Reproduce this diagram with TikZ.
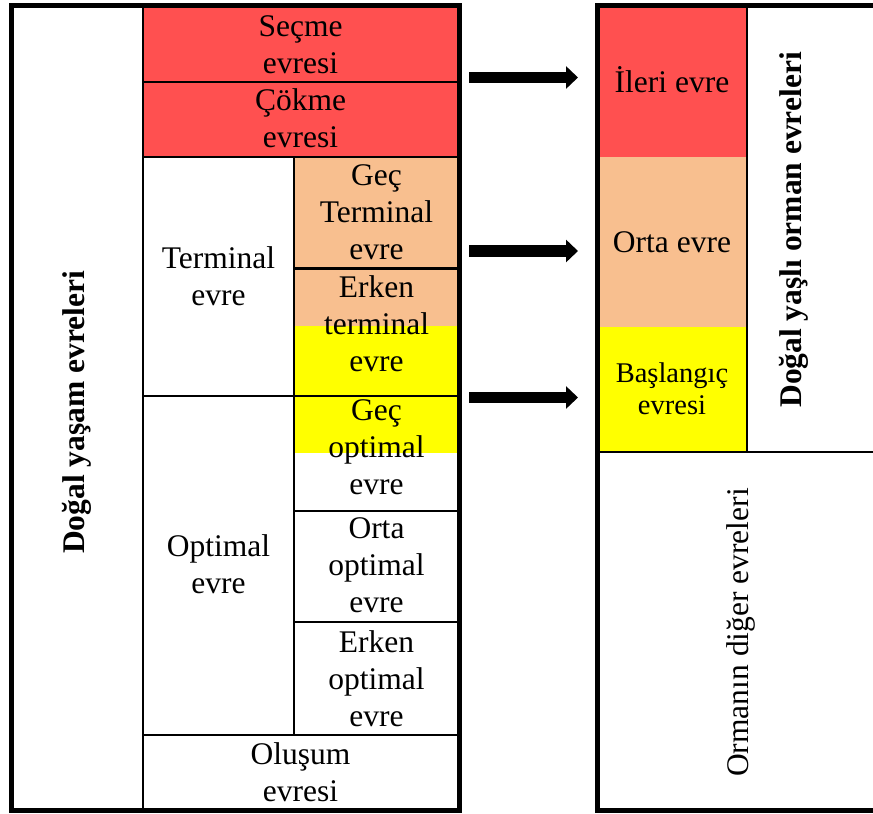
\documentclass[tikz,border=0pt]{standalone}
\usepackage{fontspec}
\setmainfont{Liberation Serif}
\usetikzlibrary{arrows.meta}
\definecolor{cred}{RGB}{255,80,80}
\definecolor{cpeach}{RGB}{248,191,143}
\definecolor{cyel}{RGB}{255,255,0}
\begin{document}
\begin{tikzpicture}[x=1pt,y=-1pt,
  cell/.style={font=\fontsize{31.5}{37}\selectfont, align=center, inner sep=0pt},
  smallcell/.style={font=\fontsize{28.5}{32}\selectfont, align=center, inner sep=0pt},
  boldcell/.style={font=\fontsize{31.5}{37}\selectfont\bfseries, inner sep=0pt},
  thin/.style={line width=2.5pt},
  thick/.style={line width=5pt},
  bigarrow/.style={line width=11.5pt, -{Triangle[width=22pt,length=12pt]}}]
\useasboundingbox (0,0) rectangle (873,814);
\clip (0,0) rectangle (873,814);
% fills
\fill[cred] (143,5) rectangle (459,157);
\fill[cpeach] (294,157) rectangle (459,326);
\fill[cyel] (294,326) rectangle (459,453);
\fill[cred] (597,5) rectangle (747,157);
\fill[cpeach] (597,157) rectangle (747,327);
\fill[cyel] (597,327) rectangle (747,452);
% inner lines, left table
\draw[thin] (143,5) -- (143,810);
\draw[thin] (143,82) -- (459,82);
\draw[thin] (143,157) -- (459,157);
\draw[thin] (294,157) -- (294,735);
\draw[thin] (294,268.5) -- (459,268.5);
\draw[thin] (143,396) -- (459,396);
\draw[thin] (294,511) -- (459,511);
\draw[thin] (294,622) -- (459,622);
\draw[thin] (143,735) -- (459,735);
% inner lines, right table
\draw[thin] (747,5) -- (747,452);
\draw[thin] (597,452) -- (880,452);
% outer borders
\draw[thick] (11,5) rectangle (459.5,810.5);
\draw[thick] (880,5) -- (597,5) -- (597,810.5) -- (880,810.5);
% texts, left table
\node[cell] (secme) at (300.5,45) {Seçme\\evresi};
\node[cell] (cokme) at (300.5,118) {Çökme\\evresi};
\node[cell] (term) at (218.5,276) {Terminal\\evre};
\node[cell] (gecterm) at (376.5,212.5) {Geç\\Terminal\\evre};
\node[cell] (erkterm) at (376.5,324) {Erken\\terminal\\evre};
\node[cell] (gecopt) at (376.5,447.5) {Geç\\optimal\\evre};
\node[cell] (ortaopt) at (376.5,565.5) {Orta\\optimal\\evre};
\node[cell] (erkopt) at (376.5,678.5) {Erken\\optimal\\evre};
\node[cell] (opt) at (218.5,564) {Optimal\\evre};
\node[cell] (olusum) at (300.5,772) {Oluşum\\evresi};
\node[boldcell, rotate=90, anchor=base] (dogalL) at (84,412.5) {Doğal yaşam evreleri};
% texts, right table
\node[cell, anchor=base] (ileri) at (672,92) {İleri evre};
\node[cell, anchor=base] (orta) at (672,252) {Orta evre};
\node[smallcell] (basl) at (672,388.5) {Başlangıç\\evresi};
\node[boldcell, rotate=90, anchor=base] (dogalR) at (801,230) {Doğal yaşlı orman evreleri};
\node[cell, rotate=90, anchor=base] (diger) at (748,632.5) {Ormanın diğer evreleri};
% arrows
\coordinate (a1s) at (469,77.5);
\coordinate (a1e) at (578,77.5);
\coordinate (a2s) at (469,251);
\coordinate (a2e) at (578,251);
\coordinate (a3s) at (469,397.5);
\coordinate (a3e) at (578,397.5);
\draw[bigarrow] (a1s) -- (a1e);
\draw[bigarrow] (a2s) -- (a2e);
\draw[bigarrow] (a3s) -- (a3e);
\end{tikzpicture}
\end{document}
